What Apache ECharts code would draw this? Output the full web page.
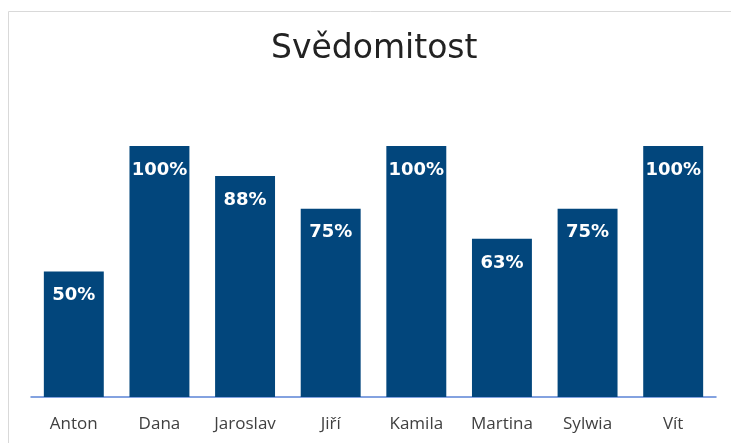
<!DOCTYPE html>
<html>
<head>
<meta charset="utf-8">
<script src="https://cdn.jsdelivr.net/npm/echarts@6/dist/echarts.min.js"></script>
<style>
  html, body { margin: 0; padding: 0; background: #fff; }
  #chart { width: 731px; height: 443px; }
</style>
</head>
<body>
<div id="chart"></div>
<script>
  // data
  var names = ['Anton', 'Dana', 'Jaroslav', 'Jiří', 'Kamila', 'Martina', 'Sylwia', 'Vít'];
  var scores = [50, 100, 88, 75, 100, 63, 75, 100];
  var chartTitle = 'Svědomitost';

  var chart = echarts.init(document.getElementById('chart'));
  chart.setOption({
    animation: false,
    title: {
      text: chartTitle,
      left: 266,
      top: 28,
      textStyle: { fontFamily: 'DejaVu Sans', fontSize: 33, fontWeight: 'normal', color: '#222' }
    },
    graphic: [{
      type: 'rect',
      shape: { x: 8.5, y: 11.5, width: 800, height: 500 },
      style: { fill: 'none', stroke: '#d9d9d9', lineWidth: 1 }
    }],
    grid: { left: 31, right: 15, top: 146, bottom: 46 },
    xAxis: {
      type: 'category',
      data: names,
      axisLine: { lineStyle: { color: '#5b84d6', width: 1.5 } },
      axisTick: { show: false },
      axisLabel: { color: '#404040', fontSize: 17, fontFamily: 'Open Sans', margin: 19 }
    },
    yAxis: {
      type: 'value',
      min: 0,
      max: 100,
      show: false
    },
    series: [{
      type: 'bar',
      data: scores,
      barCategoryGap: '30%',
      itemStyle: { color: '#02467c' },
      label: {
        show: true,
        position: 'insideTop',
        distance: 15,
        color: '#fff',
        fontFamily: 'DejaVu Sans',
        fontWeight: 'bold',
        fontSize: 18,
        formatter: '{c}%'
      }
    }]
  });
</script>
</body>
</html>
